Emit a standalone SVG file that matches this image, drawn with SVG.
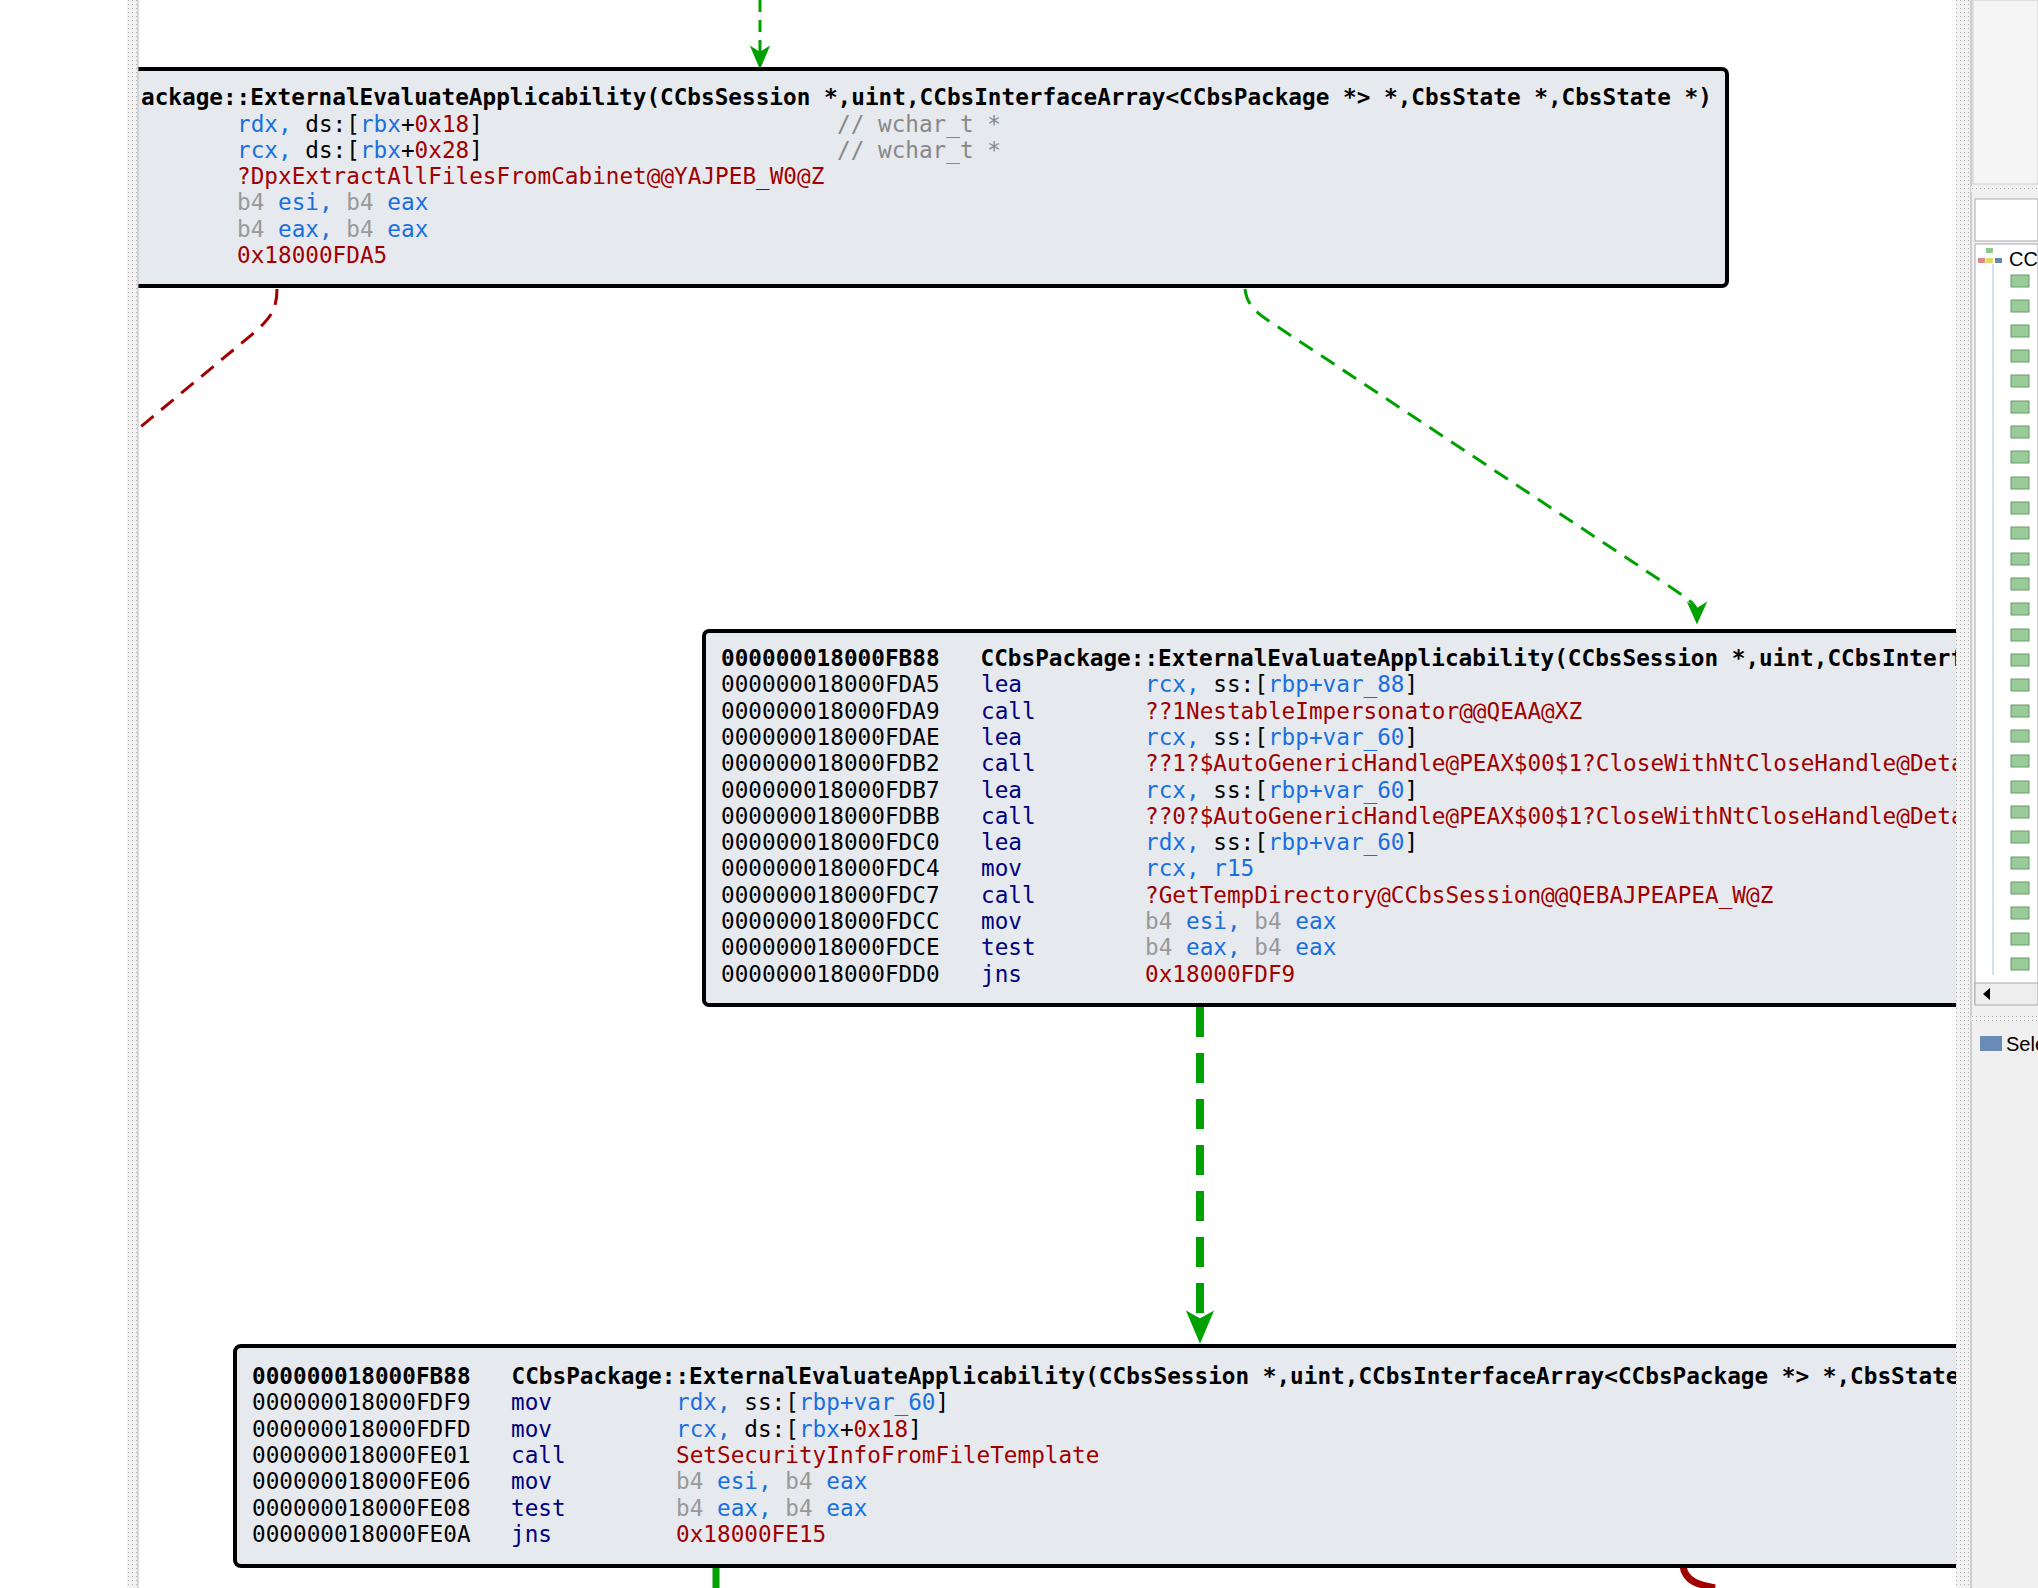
<svg xmlns="http://www.w3.org/2000/svg" width="2038" height="1588" viewBox="0 0 2038 1588">
<style>
text{font-family:"DejaVu Sans Mono","Liberation Mono",monospace;font-size:22.7px;fill:#000;white-space:pre}
.b{font-weight:bold}.bl{fill:#1a6fe0}.r{fill:#a00000}.g{fill:#999}.n{fill:#000080}.c{fill:#888}
.node{fill:#e6eaee;stroke:#000;stroke-width:4}
.ui{font-family:"Liberation Sans",sans-serif;font-size:20px}
</style>
<defs>
<clipPath id="view"><rect x="138" y="0" width="1818" height="1588"/></clipPath>
<pattern id="dots" width="4" height="4" patternUnits="userSpaceOnUse"><rect width="4" height="4" fill="#f2f2f2"/><rect width="1" height="1" fill="#aaa"/></pattern>
</defs>
<rect width="2038" height="1588" fill="#fff"/>
<g clip-path="url(#view)">
<g id="connectors" fill="none">
<path d="M760,0V52" stroke="#00a000" stroke-width="3" stroke-dasharray="12,8"/>
<path d="M752,48L760,67L768,48L760,53z" fill="#00a000" stroke="#00a000" stroke-width="2"/>
<path d="M277,289C277,310 270,318 255,332L138,429" stroke="#a00000" stroke-width="3" stroke-dasharray="16,10"/>
<path d="M1245,289C1247,305 1255,312 1275,325L1660,580C1690,600 1697,605 1697,612" stroke="#00a000" stroke-width="3" stroke-dasharray="16,10"/>
<path d="M1689,604L1697,622L1705,604L1697,609z" fill="#00a000" stroke="#00a000" stroke-width="2"/>
<path d="M1200,1007V1322" stroke="#00a000" stroke-width="8" stroke-dasharray="30,16"/>
<path d="M1189,1314L1200,1340L1211,1314L1200,1320z" fill="#00a000" stroke="#00a000" stroke-width="3"/>
<path d="M716,1566V1588" stroke="#00a000" stroke-width="7"/>
<path d="M1683,1566C1685,1582 1700,1585 1715,1588" stroke="#a00000" stroke-width="7"/>
</g>
<g id="node1">
<rect class="node" x="110" y="69" width="1617" height="217" rx="5"/>
<text x="141" y="105" class="b">ackage::ExternalEvaluateApplicability(CCbsSession *,uint,CCbsInterfaceArray&lt;CCbsPackage *&gt; *,CbsState *,CbsState *)</text>
<text x="237" y="131.5"><tspan class="bl">rdx,</tspan> ds:[<tspan class="bl">rbx</tspan>+<tspan class="r">0x18</tspan>]</text>
<text x="837" y="131.5" class="c">// wchar_t *</text>
<text x="237" y="157.8"><tspan class="bl">rcx,</tspan> ds:[<tspan class="bl">rbx</tspan>+<tspan class="r">0x28</tspan>]</text>
<text x="837" y="157.8" class="c">// wchar_t *</text>
<text x="237" y="184" class="r">?DpxExtractAllFilesFromCabinet@@YAJPEB_W0@Z</text>
<text x="237" y="210.3"><tspan class="g">b4</tspan> <tspan class="bl">esi,</tspan> <tspan class="g">b4</tspan> <tspan class="bl">eax</tspan></text>
<text x="237" y="236.6"><tspan class="g">b4</tspan> <tspan class="bl">eax,</tspan> <tspan class="g">b4</tspan> <tspan class="bl">eax</tspan></text>
<text x="237" y="262.9" class="r">0x18000FDA5</text>
</g>
<g id="node2">
<rect class="node" x="704" y="631" width="1400" height="374" rx="5"/>
<text x="721" y="666" class="b">000000018000FB88   CCbsPackage::ExternalEvaluateApplicability(CCbsSession *,uint,CCbsInterfaceArray&lt;CCbsPackage *&gt; *,CbsState *,CbsState *)</text>
<text x="721" y="692.3">000000018000FDA5</text><text x="981" y="692.3" class="n">lea</text><text x="1145" y="692.3"><tspan class="bl">rcx,</tspan> ss:[<tspan class="bl">rbp+var_88</tspan>]</text>
<text x="721" y="718.6">000000018000FDA9</text><text x="981" y="718.6" class="n">call</text><text x="1145" y="718.6" class="r">??1NestableImpersonator@@QEAA@XZ</text>
<text x="721" y="744.9">000000018000FDAE</text><text x="981" y="744.9" class="n">lea</text><text x="1145" y="744.9"><tspan class="bl">rcx,</tspan> ss:[<tspan class="bl">rbp+var_60</tspan>]</text>
<text x="721" y="771.2">000000018000FDB2</text><text x="981" y="771.2" class="n">call</text><text x="1145" y="771.2" class="r">??1?$AutoGenericHandle@PEAX$00$1?CloseWithNtCloseHandle@Details@@</text>
<text x="721" y="797.5">000000018000FDB7</text><text x="981" y="797.5" class="n">lea</text><text x="1145" y="797.5"><tspan class="bl">rcx,</tspan> ss:[<tspan class="bl">rbp+var_60</tspan>]</text>
<text x="721" y="823.8">000000018000FDBB</text><text x="981" y="823.8" class="n">call</text><text x="1145" y="823.8" class="r">??0?$AutoGenericHandle@PEAX$00$1?CloseWithNtCloseHandle@Details@@</text>
<text x="721" y="850.1">000000018000FDC0</text><text x="981" y="850.1" class="n">lea</text><text x="1145" y="850.1"><tspan class="bl">rdx,</tspan> ss:[<tspan class="bl">rbp+var_60</tspan>]</text>
<text x="721" y="876.4">000000018000FDC4</text><text x="981" y="876.4" class="n">mov</text><text x="1145" y="876.4" class="bl">rcx, r15</text>
<text x="721" y="902.7">000000018000FDC7</text><text x="981" y="902.7" class="n">call</text><text x="1145" y="902.7" class="r">?GetTempDirectory@CCbsSession@@QEBAJPEAPEA_W@Z</text>
<text x="721" y="929">000000018000FDCC</text><text x="981" y="929" class="n">mov</text><text x="1145" y="929"><tspan class="g">b4</tspan> <tspan class="bl">esi,</tspan> <tspan class="g">b4</tspan> <tspan class="bl">eax</tspan></text>
<text x="721" y="955.3">000000018000FDCE</text><text x="981" y="955.3" class="n">test</text><text x="1145" y="955.3"><tspan class="g">b4</tspan> <tspan class="bl">eax,</tspan> <tspan class="g">b4</tspan> <tspan class="bl">eax</tspan></text>
<text x="721" y="981.6">000000018000FDD0</text><text x="981" y="981.6" class="n">jns</text><text x="1145" y="981.6" class="r">0x18000FDF9</text>
</g>
<g id="node3">
<rect class="node" x="235" y="1346" width="1800" height="220" rx="6" stroke-width="7"/>
<text x="252" y="1384" class="b">000000018000FB88   CCbsPackage::ExternalEvaluateApplicability(CCbsSession *,uint,CCbsInterfaceArray&lt;CCbsPackage *&gt; *,CbsState *,CbsState *)</text>
<text x="252" y="1410.3">000000018000FDF9</text><text x="511" y="1410.3" class="n">mov</text><text x="676" y="1410.3"><tspan class="bl">rdx,</tspan> ss:[<tspan class="bl">rbp+var_60</tspan>]</text>
<text x="252" y="1436.6">000000018000FDFD</text><text x="511" y="1436.6" class="n">mov</text><text x="676" y="1436.6"><tspan class="bl">rcx,</tspan> ds:[<tspan class="bl">rbx</tspan>+<tspan class="r">0x18</tspan>]</text>
<text x="252" y="1462.9">000000018000FE01</text><text x="511" y="1462.9" class="n">call</text><text x="676" y="1462.9" class="r">SetSecurityInfoFromFileTemplate</text>
<text x="252" y="1489.2">000000018000FE06</text><text x="511" y="1489.2" class="n">mov</text><text x="676" y="1489.2"><tspan class="g">b4</tspan> <tspan class="bl">esi,</tspan> <tspan class="g">b4</tspan> <tspan class="bl">eax</tspan></text>
<text x="252" y="1515.5">000000018000FE08</text><text x="511" y="1515.5" class="n">test</text><text x="676" y="1515.5"><tspan class="g">b4</tspan> <tspan class="bl">eax,</tspan> <tspan class="g">b4</tspan> <tspan class="bl">eax</tspan></text>
<text x="252" y="1541.8">000000018000FE0A</text><text x="511" y="1541.8" class="n">jns</text><text x="676" y="1541.8" class="r">0x18000FE15</text>
</g>
</g>
<g id="left-strip"><rect x="127" y="0" width="11" height="1588" fill="url(#dots)"/><line x1="138" y1="0" x2="138" y2="1588" stroke="#bbb"/></g>
<g id="right-panel">
<rect x="1956" y="0" width="82" height="1588" fill="#f0f0f0"/>
<rect x="1956" y="0" width="15" height="1588" fill="url(#dots)"/>
<line x1="1971" y1="0" x2="1971" y2="1588" stroke="#aaa"/>
<rect x="1973" y="0" width="65" height="184" fill="#f5f5f5" stroke="#ccc"/>
<rect x="1971" y="186" width="67" height="6" fill="url(#dots)"/>
<rect x="1975" y="199" width="63" height="42" fill="#fff" stroke="#aaa"/>
<rect x="1975" y="244" width="63" height="760" fill="#fff" stroke="#aaa"/>
<rect x="1978" y="258" width="7" height="5" fill="#d88"/><rect x="1986" y="248" width="7" height="5" fill="#8c8"/><rect x="1986" y="258" width="7" height="5" fill="#dd6"/><rect x="1995" y="258" width="7" height="5" fill="#68a"/>
<text x="2009" y="266" class="ui">CCbs</text>
<line x1="1993" y1="264" x2="1993" y2="975" stroke="#a8c0e0"/>
<g id="tree" fill="#9c9" stroke="#6a9a6a">
<rect x="2011" y="275" width="18" height="12"/><rect x="2011" y="300" width="18" height="12"/><rect x="2011" y="325" width="18" height="12"/><rect x="2011" y="350" width="18" height="12"/><rect x="2011" y="375" width="18" height="12"/><rect x="2011" y="401" width="18" height="12"/><rect x="2011" y="426" width="18" height="12"/><rect x="2011" y="451" width="18" height="12"/><rect x="2011" y="477" width="18" height="12"/><rect x="2011" y="502" width="18" height="12"/><rect x="2011" y="527" width="18" height="12"/><rect x="2011" y="553" width="18" height="12"/><rect x="2011" y="578" width="18" height="12"/><rect x="2011" y="603" width="18" height="12"/><rect x="2011" y="629" width="18" height="12"/><rect x="2011" y="654" width="18" height="12"/><rect x="2011" y="679" width="18" height="12"/><rect x="2011" y="705" width="18" height="12"/><rect x="2011" y="730" width="18" height="12"/><rect x="2011" y="755" width="18" height="12"/><rect x="2011" y="781" width="18" height="12"/><rect x="2011" y="806" width="18" height="12"/><rect x="2011" y="831" width="18" height="12"/><rect x="2011" y="857" width="18" height="12"/><rect x="2011" y="882" width="18" height="12"/><rect x="2011" y="907" width="18" height="12"/><rect x="2011" y="933" width="18" height="12"/><rect x="2011" y="958" width="18" height="12"/>
</g>
<rect x="1975" y="983" width="63" height="22" fill="#eee" stroke="#aaa"/>
<path d="M1990,988L1983,994L1990,1000z" fill="#000"/>
<rect x="1971" y="1016" width="67" height="6" fill="url(#dots)"/>
<rect x="1980" y="1036" width="22" height="15" fill="#6a8ab8"/>
<text x="2006" y="1051" class="ui">Sele</text>
</g>
</svg>
